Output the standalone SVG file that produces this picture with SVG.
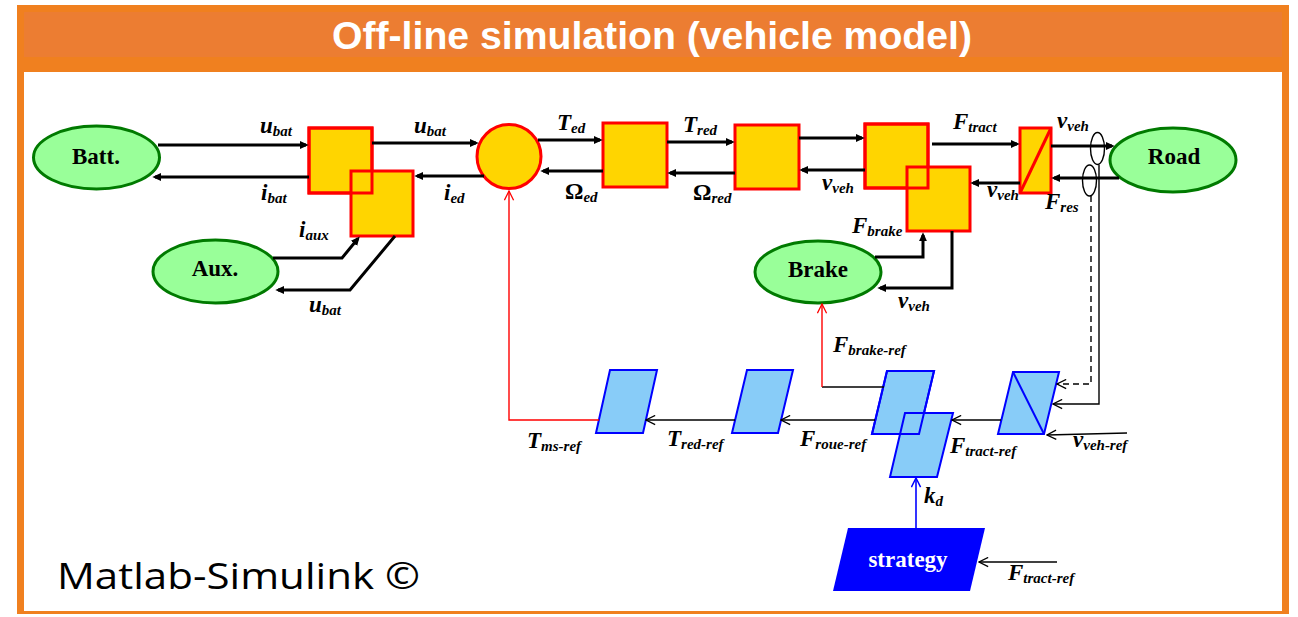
<svg xmlns="http://www.w3.org/2000/svg" width="1298" height="617" viewBox="0 0 1298 617">
  <style>
    .blk { fill: #FFD500; stroke: #FF0000; stroke-width: 3; }
    .outline { fill: none; stroke: #FF0000; stroke-width: 3; }
    .src { fill: #99FF99; stroke: #007A00; stroke-width: 3; }
    .ref { fill: #88CCF8; stroke: #0000FF; stroke-width: 2; }
    .refline { fill: none; stroke: #0000FF; stroke-width: 2; }
    .nodetxt { font-family: "Liberation Serif", "Times New Roman", serif; font-weight: bold; font-size: 23px; fill: #000; text-anchor: middle; }
    .lbl { font-family: "Liberation Serif", "Times New Roman", serif; font-weight: bold; font-style: italic; font-size: 23px; fill: #000; }
    .sub { font-size: 15px; }
    .up { font-style: normal; }
    .wire { fill: none; stroke: #000; stroke-width: 3; marker-end: url(#ah); }
    .thin { fill: none; stroke: #000; stroke-width: 1.4; }
    .thinarrow { fill: none; stroke: #000; stroke-width: 1.4; marker-end: url(#oa); }
  </style>
  <defs>
    <marker id="ah" viewBox="0 0 10 10" refX="7" refY="5" markerWidth="9" markerHeight="9" markerUnits="userSpaceOnUse" orient="auto">
      <path d="M0,0.5 L10,5 L0,9.5 z" fill="#000"/>
    </marker>
    <marker id="oa" viewBox="0 0 12 12" refX="11" refY="6" markerWidth="11" markerHeight="11" markerUnits="userSpaceOnUse" orient="auto">
      <path d="M1,1 L11,6 L1,11" fill="none" stroke="#000" stroke-width="1.4"/>
    </marker>
    <marker id="oa-red" viewBox="0 0 12 12" refX="11" refY="6" markerWidth="11" markerHeight="11" markerUnits="userSpaceOnUse" orient="auto">
      <path d="M1,1 L11,6 L1,11" fill="none" stroke="#FF0000" stroke-width="1.4"/>
    </marker>
    <marker id="oa-blue" viewBox="0 0 12 12" refX="11" refY="6" markerWidth="11" markerHeight="11" markerUnits="userSpaceOnUse" orient="auto">
      <path d="M1,1 L11,6 L1,11" fill="none" stroke="#0000FF" stroke-width="1.6"/>
    </marker>
  </defs>

  <!-- frame and header -->
  <g id="frame">
    <rect x="17" y="5" width="1272" height="609" fill="#F0801F"/>
    <rect x="24" y="12" width="1258" height="45" fill="#EC7D32"/>
    <rect x="24" y="72" width="1258" height="539" fill="#FFFFFF"/>
    <text x="652" y="49" font-family="Liberation Sans, Arial, sans-serif" font-weight="bold" font-size="38" fill="#FFFFFF" text-anchor="middle" textLength="640" lengthAdjust="spacingAndGlyphs">Off-line simulation (vehicle model)</text>
  </g>

  <!-- sources -->
  <g id="batt">
    <ellipse class="src" cx="96.5" cy="157.5" rx="63" ry="31.5"/>
    <text class="nodetxt" x="96" y="164">Batt.</text>
  </g>
  <g id="aux">
    <ellipse class="src" cx="215.5" cy="271.5" rx="62.5" ry="31.5"/>
    <text class="nodetxt" x="215" y="276">Aux.</text>
  </g>
  <g id="brake">
    <ellipse class="src" cx="818" cy="272" rx="63" ry="31"/>
    <text class="nodetxt" x="818" y="277">Brake</text>
  </g>
  <g id="road">
    <ellipse class="src" cx="1173" cy="160" rx="63" ry="32"/>
    <text class="nodetxt" x="1174" y="164">Road</text>
  </g>

  <!-- energetic blocks -->
  <g id="conv-bat"><rect class="blk" x="309" y="128" width="63" height="65"/></g>
  <g id="conv-aux"><rect class="blk" x="351" y="171" width="62" height="65"/></g>
  <g id="machine"><circle class="blk" cx="509" cy="156.5" r="32"/></g>
  <g id="shaft"><rect class="blk" x="603" y="123" width="64" height="64"/></g>
  <g id="gear"><rect class="blk" x="735" y="125" width="64" height="64"/></g>
  <g id="wheel"><rect class="blk" x="865" y="124" width="63" height="64"/></g>
  <g id="brake-coupling"><rect class="blk" x="907" y="167" width="63" height="64"/></g>
  <g id="chassis">
    <rect class="blk" x="1020" y="128" width="31" height="65"/>
    <line x1="1020" y1="193" x2="1051" y2="128" stroke="#FF0000" stroke-width="3"/>
  </g>
  <!-- borders of the blocks lying underneath, kept visible through the overlap -->
  <g id="overlap-outlines">
    <rect class="outline" x="309" y="128" width="63" height="65"/>
    <rect class="outline" x="865" y="124" width="63" height="64"/>
  </g>

  <!-- control chain -->
  <g id="inv-machine"><polygon class="ref" points="610,370 657,370 643,433 596,433"/></g>
  <g id="inv-gear"><polygon class="ref" points="747,370 793,370 778,433 732,433"/></g>
  <g id="inv-wheel"><polygon class="ref" points="887,371 934,371 919,434 872,434"/></g>
  <g id="inv-brake-coupling"><polygon class="ref" points="905,413 953,413 937,477 890,477"/></g>
  <g id="inv-chassis">
    <polygon class="ref" points="1013,372 1059,372 1044,434 998,434"/>
    <line x1="1013" y1="372" x2="1044" y2="434" stroke="#0000FF" stroke-width="2"/>
  </g>
  <g id="inv-overlap"><polygon class="refline" points="887,371 934,371 919,434 872,434"/></g>
  <g id="strategy">
    <polygon points="848,528 985,528 970,591 833,591" fill="#0000FF"/>
    <text x="908" y="567" font-family="Liberation Serif, Times New Roman, serif" font-weight="bold" font-size="23" fill="#FFFFFF" text-anchor="middle">strategy</text>
  </g>

  <!-- connectors -->
  <g id="connectors">
    <path class="wire" d="M158,145 H306"/>
    <path class="wire" d="M309,177 H155"/>
    <path class="wire" d="M372,143 H476"/>
    <path class="wire" d="M484,176 H417"/>
    <path class="wire" d="M273,258 H342 L358,238.5"/>
    <path class="wire" d="M395,236 L350,290 H278"/>
    <path class="wire" d="M538,140 H600"/>
    <path class="wire" d="M603,171 H543"/>
    <path class="wire" d="M667,142 H732"/>
    <path class="wire" d="M735,173 H670"/>
    <path class="wire" d="M799,138 H862"/>
    <path class="wire" d="M865,170 H802"/>
    <path class="wire" d="M932,144 H1017"/>
    <path class="wire" d="M1020,183 H973"/>
    <path class="wire" d="M1051,146 H1112"/>
    <path class="wire" d="M1119,178 H1054"/>
    <path class="wire" d="M875,257 H923 V235"/>
    <path class="wire" d="M952,231 V288 H880"/>

    <!-- measurement loops on the road link -->
    <ellipse cx="1097.5" cy="148.5" rx="7" ry="16" class="thin"/>
    <ellipse cx="1089.5" cy="180.5" rx="7" ry="15.5" class="thin"/>
    <path class="thinarrow" d="M1099,164.5 V404 H1053"/>
    <path class="thinarrow" d="M1091,196 V384 H1057" stroke-dasharray="6,4"/>

    <path class="thinarrow" d="M1127,433 L1047,435"/>
    <path class="thinarrow" d="M1001,420 H952"/>
    <path class="thinarrow" d="M875,420 H781"/>
    <path class="thinarrow" d="M735,420 H646"/>
    <path d="M599,420 H509 V191" fill="none" stroke="#FF0000" stroke-width="1.4" marker-end="url(#oa-red)"/>
    <path class="thin" d="M884,387 H822"/>
    <path d="M822,387 V304" fill="none" stroke="#FF0000" stroke-width="1.4" marker-end="url(#oa-red)"/>
    <path d="M916,528 V478" fill="none" stroke="#0000FF" stroke-width="1.6" marker-end="url(#oa-blue)"/>
    <path class="thinarrow" d="M1057,562 H979"/>
  </g>

  <!-- signal labels -->
  <g id="labels">
    <text class="lbl" x="260" y="133">u<tspan class="sub" dy="3">bat</tspan></text>
    <text class="lbl" x="261" y="200">i<tspan class="sub" dy="3">bat</tspan></text>
    <text class="lbl" x="414" y="133">u<tspan class="sub" dy="3">bat</tspan></text>
    <text class="lbl" x="444" y="200">i<tspan class="sub" dy="3">ed</tspan></text>
    <text class="lbl" x="299" y="237">i<tspan class="sub" dy="3">aux</tspan></text>
    <text class="lbl" x="309" y="312">u<tspan class="sub" dy="3">bat</tspan></text>
    <text class="lbl" x="557" y="130">T<tspan class="sub" dy="3">ed</tspan></text>
    <text class="lbl" x="565" y="199"><tspan class="up">Ω</tspan><tspan class="sub" dy="3">ed</tspan></text>
    <text class="lbl" x="683" y="132">T<tspan class="sub" dy="3">red</tspan></text>
    <text class="lbl" x="693" y="200"><tspan class="up">Ω</tspan><tspan class="sub" dy="3">red</tspan></text>
    <text class="lbl" x="822" y="190">v<tspan class="sub" dy="3">veh</tspan></text>
    <text class="lbl" x="852" y="233">F<tspan class="sub" dy="3">brake</tspan></text>
    <text class="lbl" x="898" y="308">v<tspan class="sub" dy="3">veh</tspan></text>
    <text class="lbl" x="953" y="129">F<tspan class="sub" dy="3">tract</tspan></text>
    <text class="lbl" x="1057" y="128">v<tspan class="sub" dy="3">veh</tspan></text>
    <text class="lbl" x="987" y="197">v<tspan class="sub" dy="3">veh</tspan></text>
    <text class="lbl" x="1045" y="209">F<tspan class="sub" dy="3">res</tspan></text>
    <text class="lbl" x="527" y="448">T<tspan class="sub" dy="3">ms-ref</tspan></text>
    <text class="lbl" x="667" y="446">T<tspan class="sub" dy="3">red-ref</tspan></text>
    <text class="lbl" x="800" y="446">F<tspan class="sub" dy="3">roue-ref</tspan></text>
    <text class="lbl" x="833" y="352">F<tspan class="sub" dy="3">brake-ref</tspan></text>
    <text class="lbl" x="950" y="453">F<tspan class="sub" dy="3">tract-ref</tspan></text>
    <text class="lbl" x="1073" y="447">v<tspan class="sub" dy="3">veh-ref</tspan></text>
    <text class="lbl" x="924" y="503">k<tspan class="sub" dy="3">d</tspan></text>
    <text class="lbl" x="1008" y="580">F<tspan class="sub" dy="3">tract-ref</tspan></text>
  </g>

  <text x="57" y="589" font-family="Open Sans, Noto Sans, sans-serif" font-size="37" fill="#000" textLength="363" lengthAdjust="spacingAndGlyphs">Matlab-Simulink ©</text>
</svg>
